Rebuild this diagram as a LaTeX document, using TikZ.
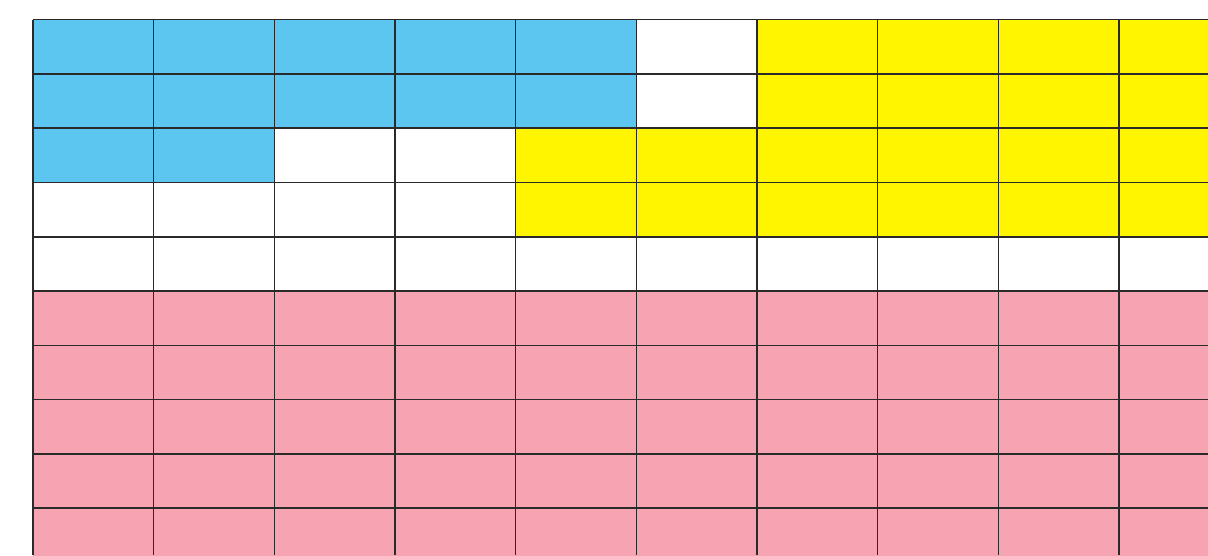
\documentclass[tikz,border=0pt]{standalone}
\definecolor{cblue}{HTML}{5CC6F0}
\definecolor{cyellow}{HTML}{FFF500}
\definecolor{cpink}{HTML}{F6A3B2}
\definecolor{cline}{HTML}{2A2A2A}
\begin{document}
\begin{tikzpicture}[x=1pt,y=-1pt,
  gridline/.style={draw=cline,line width=1.6pt}]
\useasboundingbox (0,0) rectangle (1208,555);
\fill[white] (0,0) rectangle (1208,555);
\def\cw{120.67}
\def\rh{54.3}
\def\xo{33}
\def\yo{19.5}
% cell filler: #1 col, #2 row, #3 colour
\newcommand{\cellfill}[3]{\fill[#3] ({\xo+#1*\cw},{\yo+#2*\rh}) rectangle ({\xo+(#1+1)*\cw},{\yo+(#2+1)*\rh});}
% blue
\foreach \c in {0,...,4} {\cellfill{\c}{0}{cblue}\cellfill{\c}{1}{cblue}}
\foreach \c in {0,1} {\cellfill{\c}{2}{cblue}}
% yellow
\foreach \c in {6,...,9} {\cellfill{\c}{0}{cyellow}\cellfill{\c}{1}{cyellow}}
\foreach \c in {4,...,9} {\cellfill{\c}{2}{cyellow}\cellfill{\c}{3}{cyellow}}
% pink
\foreach \r in {5,...,9} {\foreach \c in {0,...,9} {\cellfill{\c}{\r}{cpink}}}
% grid lines
\foreach \c in {0,...,9} {\draw[gridline] ({\xo+\c*\cw},\yo) -- ({\xo+\c*\cw},555);}
\foreach \r in {0,...,9} {\draw[gridline] (\xo,{\yo+\r*\rh}) -- (1208,{\yo+\r*\rh});}
\end{tikzpicture}
\end{document}
